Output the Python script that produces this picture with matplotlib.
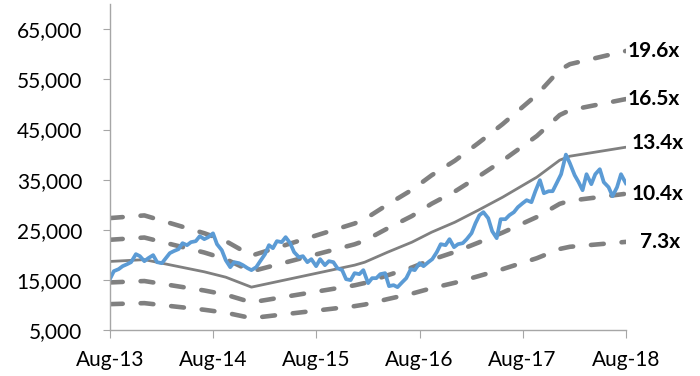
import matplotlib
matplotlib.use('Agg')
import matplotlib.pyplot as plt
import matplotlib.dates as mdates
import pandas as pd

# price index, read every half month from Aug-13 to Aug-18
price = [
    15160, 16760, 17160, 17750, 18150, 18550, 20150, 19750, 18750, 19350,
    19950, 18550, 18350, 19350, 20350, 20750, 21150, 22340, 21940, 22540,
    22740, 23730, 23140, 23530, 24300, 22140, 20940, 18950, 17550, 18550,
    18350, 17950, 17360, 16960, 17560, 18750, 20150, 21940, 21340, 22740,
    22540, 23540, 22340, 20550, 19550, 19750, 18550, 19150, 17750, 19150,
    17950, 18750, 18550, 17360, 16960, 15160, 14970, 16360, 16160, 16960,
    14370, 15360, 15360, 16160, 16360, 13770, 13970, 13570, 14570, 15360,
    17160, 16960, 18350, 17750, 18550, 19150, 20550, 22140, 21940, 23140,
    21540, 22140, 22340, 23140, 24330, 26320, 27920, 28520, 27320, 24730,
    23340, 27120, 27120, 27920, 28520, 29510, 30310, 30910, 30510, 32700,
    34900, 32300, 32700, 32700, 34500, 36090, 40000, 38280, 35890, 34500,
    32900, 36090, 34100, 36090, 37090, 34500, 33500, 31710, 33500, 36090,
    34300,
]
price_dates = pd.date_range('2013-08-01', periods=len(price), freq='SMS')

# forward earnings used for the P/E bands
eps_dates = pd.to_datetime([
    '2013-08-01', '2013-12-01', '2014-03-15', '2014-07-01', '2014-09-15',
    '2014-12-15', '2015-12-15', '2016-01-20', '2016-04-10', '2016-07-05',
    '2016-09-13', '2016-12-04', '2017-02-25', '2017-05-22', '2017-09-20',
    '2017-12-10', '2018-01-15', '2018-08-01',
])
eps = [1395, 1422, 1333, 1241, 1161, 1013, 1340, 1384, 1533, 1682,
       1831, 1979, 2158, 2351, 2649, 2902, 2961, 3095]

multiples = [19.6, 16.5, 13.4, 10.4, 7.3]
labels = ['19.6x', '16.5x', '13.4x', '10.4x', '7.3x']

grey = '#808080'
blue = '#5B9BD5'
axis_grey = '#A6A6A6'

fig = plt.figure(figsize=(7, 3.76), dpi=100)
ax = fig.add_axes([0.157, 0.122, 0.737, 0.867])

label_offsets = [(1, 0), (1, 0), (4, 3), (4, 0), (10, 0)]
for m, lab, off in zip(multiples, labels, label_offsets):
    band = [m * e for e in eps]
    if m == 13.4:
        ax.plot(eps_dates, band, color=grey, lw=2.0, solid_capstyle='round')
    else:
        ax.plot(eps_dates, band, color=grey, lw=3.3, dashes=(2.8, 3.9),
                dash_capstyle='round')
    ax.annotate(lab, xy=(eps_dates[-1], band[-1]), xytext=off,
                textcoords='offset points', ha='left', va='center',
                fontsize=15, fontweight='bold', fontfamily='Lato',
                annotation_clip=False)

ax.plot(price_dates, price, color=blue, lw=2.7, solid_joinstyle='round')

ax.set_xlim(pd.Timestamp('2013-08-01'), pd.Timestamp('2018-08-01'))
ax.set_ylim(5000, 70000)
ax.set_yticks(range(5000, 70000, 10000))
ax.yaxis.set_major_formatter(matplotlib.ticker.StrMethodFormatter('{x:,.0f}'))
ax.xaxis.set_major_locator(mdates.YearLocator(month=8, day=1))
ax.xaxis.set_major_formatter(mdates.DateFormatter('%b-%y'))

for s in ['top', 'right']:
    ax.spines[s].set_visible(False)
for s in ['left', 'bottom']:
    ax.spines[s].set_color(axis_grey)
    ax.spines[s].set_linewidth(1.0)
ax.tick_params(axis='y', length=5, color=axis_grey, pad=15)
ax.tick_params(axis='x', length=6, color=axis_grey, pad=8)
for t in ax.get_xticklabels() + ax.get_yticklabels():
    t.set_fontfamily('Lato')
    t.set_fontsize(15)

plt.savefig('out.png', dpi=100)
plt.close()
